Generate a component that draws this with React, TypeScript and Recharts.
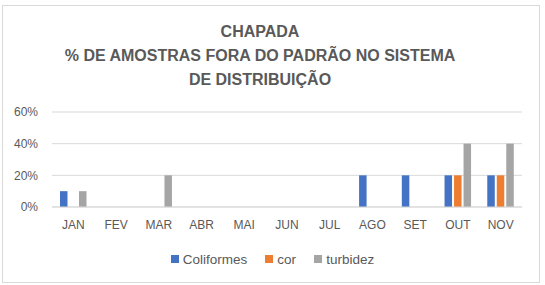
import React from "react";
import { BarChart, Bar, XAxis, YAxis, CartesianGrid } from "recharts";

const months = ["JAN", "FEV", "MAR", "ABR", "MAI", "JUN", "JUL", "AGO", "SET", "OUT", "NOV"];
const coliformes = [10, 0, 0, 0, 0, 0, 0, 20, 20, 20, 20];
const cor = [0, 0, 0, 0, 0, 0, 0, 0, 0, 20, 20];
const turbidez = [10, 0, 20, 0, 0, 0, 0, 0, 0, 40, 40];
const yTicks = [0, 20, 40, 60];
const titleLines = ["CHAPADA", "% DE AMOSTRAS FORA DO PADRÃO NO SISTEMA", "DE DISTRIBUIÇÃO"];

const series = [
  { key: "Coliformes", values: coliformes, color: "#4472C4" },
  { key: "cor", values: cor, color: "#ED7D31" },
  { key: "turbidez", values: turbidez, color: "#A5A5A5" },
];

const data = months.map((m, i) => {
  const row: Record<string, string | number> = { month: m };
  series.forEach((s) => {
    row[s.key] = s.values[i];
  });
  return row;
});

const FONT = "'Liberation Sans', Arial, sans-serif";
const TEXT = "#595959";

export default function App() {
  return (
    <div style={{ position: "absolute", left: 0, top: 0, width: 545, height: 285, background: "#fff" }}>
      <div
        style={{
          position: "absolute",
          left: 2,
          top: 5,
          width: 536,
          height: 276,
          border: "1px solid #d9d9d9",
        }}
      />
      <div
        style={{
          position: "absolute",
          left: 0,
          top: 20,
          width: 520,
          textAlign: "center",
          fontFamily: FONT,
          fontWeight: "bold",
          fontSize: 16,
          lineHeight: "24px",
          color: TEXT,
        }}
      >
        {titleLines.map((t) => (
          <div key={t}>{t}</div>
        ))}
      </div>
      <div style={{ position: "absolute", left: 0, top: 0 }}>
        <BarChart
          width={545}
          height={285}
          data={data}
          margin={{ top: 112, right: 23, bottom: 48, left: 0 }}
          barSize={7.5}
          barGap={2}
        >
          <CartesianGrid vertical={false} stroke="#d9d9d9" strokeWidth={1} />
          <XAxis
            dataKey="month"
            height={30}
            axisLine={{ stroke: "#d9d9d9" }}
            tickLine={false}
            tickSize={6}
            tickMargin={7}
            tick={{ fill: TEXT, fontSize: 12, fontFamily: FONT }}
            interval={0}
          />
          <YAxis
            width={52}
            domain={[0, 60]}
            ticks={yTicks}
            axisLine={false}
            tickLine={false}
            tickSize={6}
            tickMargin={8}
            tickFormatter={(v: number) => `${v}%`}
            tick={{ fill: TEXT, fontSize: 12, fontFamily: FONT }}
          />
          {series.map((s) => (
            <Bar key={s.key} dataKey={s.key} fill={s.color} isAnimationActive={false} />
          ))}
        </BarChart>
      </div>
      <div
        style={{
          position: "absolute",
          top: 251,
          left: 0,
          width: 545,
          height: 16,
          display: "flex",
          justifyContent: "center",
          alignItems: "center",
          fontFamily: FONT,
          fontSize: 13.5,
          color: TEXT,
        }}
      >
        {series.map((s, i) => (
          <div key={s.key} style={{ display: "flex", alignItems: "center", marginLeft: i === 0 ? 0 : 18 }}>
            <span style={{ display: "inline-block", width: 8, height: 8, background: s.color, marginRight: 4 }} />
            <span>{s.key}</span>
          </div>
        ))}
      </div>
    </div>
  );
}
